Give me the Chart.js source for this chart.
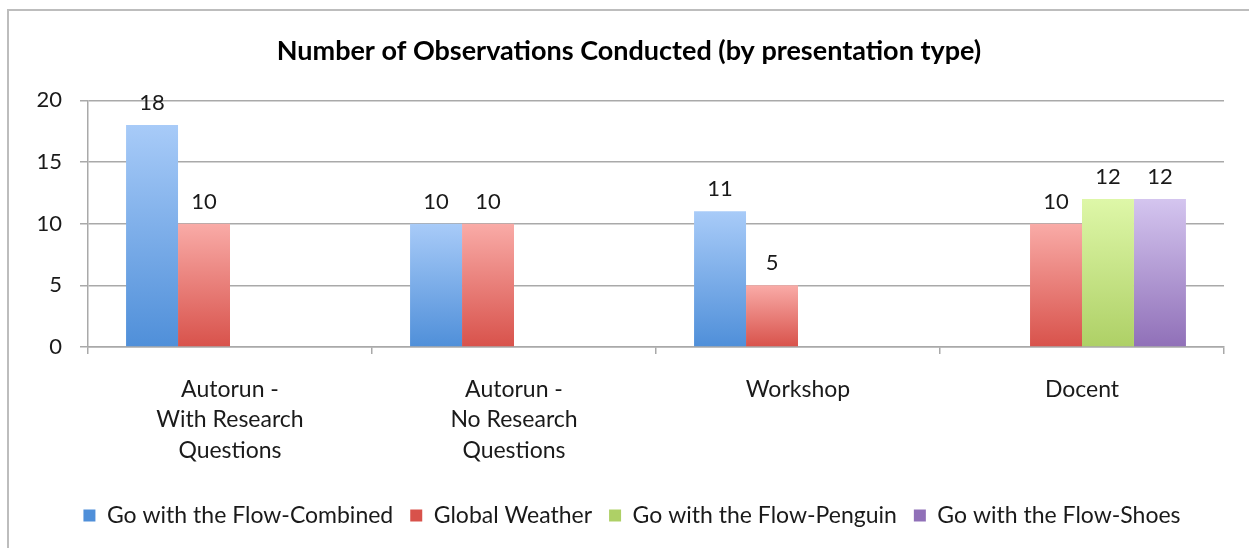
<!DOCTYPE html>
<html>
<head>
<meta charset="utf-8">
<script src="https://cdn.jsdelivr.net/npm/chart.js@4/dist/chart.umd.min.js"></script>
<style>
  html, body { margin: 0; padding: 0; background: #fff; }
  #wrap { position: relative; width: 1249px; height: 548px; }
</style>
</head>
<body>
<div id="wrap"><canvas id="chart" width="1249" height="548"></canvas></div>
<script>
// chart data
const categories = [
  ['Autorun -', 'With Research', 'Questions'],
  ['Autorun -', 'No Research', 'Questions'],
  'Workshop',
  'Docent'
]
const seriesNames = [
  'Go with the Flow-Combined',
  'Global Weather',
  'Go with the Flow-Penguin',
  'Go with the Flow-Shoes'
]
const combined = [18, 10, 11, null]
const globalWeather = [10, 10, 5, 10]
const penguin = [null, null, null, 12]
const shoes = [null, null, null, 12]
const yTicks = [0, 5, 10, 15, 20]

// top / bottom colours of each bar gradient
const gradColors = [
  ['#a8cbf8', '#4f8fd9'],
  ['#f9aba7', '#d8524b'],
  ['#def7a8', '#aed066'],
  ['#d4c5ef', '#9070b8']
]

const FONT = 'Lato, "Open Sans", sans-serif'
const TEXT = '#1a1a1a'
const GRID = '#a9a9a9'

function barFill(i) {
  return function (ctx) {
    const [top, bottom] = gradColors[i]
    if (ctx.type !== 'data' || ctx.raw == null || !ctx.chart.chartArea) return bottom
    const y = ctx.chart.scales.y
    const g = ctx.chart.ctx.createLinearGradient(0, y.getPixelForValue(ctx.raw), 0, y.getPixelForValue(0))
    g.addColorStop(0, top)
    g.addColorStop(1, bottom)
    return g
  }
}

// values written above each bar
const barLabels = {
  id: 'barLabels',
  afterDatasetsDraw(chart) {
    const c = chart.ctx
    c.save()
    c.font = '22px ' + FONT
    c.fillStyle = TEXT
    c.textAlign = 'center'
    c.textBaseline = 'middle'
    chart.data.datasets.forEach((ds, i) => {
      chart.getDatasetMeta(i).data.forEach((bar, j) => {
        if (ds.data[j] == null) return
        c.fillText(String(ds.data[j]), bar.x, bar.y - 22)
      })
    })
    c.restore()
  }
}

// grey frame of the chart box (top and left edges visible)
const frame = {
  id: 'frame',
  beforeDraw(chart) {
    const c = chart.ctx
    c.save()
    c.strokeStyle = '#bdbdbd'
    c.lineWidth = 2
    c.beginPath()
    c.moveTo(8, 548)
    c.lineTo(8, 10)
    c.lineTo(1249, 10)
    c.stroke()
    c.restore()
  }
}

// title and legend sit a little right of the plot centre in the original
const nudge = {
  id: 'nudge',
  afterLayout(chart) {
    if (chart.titleBlock) {
      chart.titleBlock.left += 13
      chart.titleBlock.right += 13
    }
    if (chart.legend) {
      chart.legend.left += 16
      chart.legend.right += 16
    }
  }
}

const datasets = [combined, globalWeather, penguin, shoes].map((data, i) => ({
  label: seriesNames[i],
  data: data,
  backgroundColor: barFill(i),
  borderWidth: 0,
  barPercentage: 1,
  categoryPercentage: 0.732
}))

new Chart(document.getElementById('chart'), {
  type: 'bar',
  data: { labels: categories, datasets: datasets },
  plugins: [frame, barLabels, nudge],
  options: {
    responsive: false,
    animation: false,
    layout: { padding: { left: 8, right: 25, top: 10, bottom: 11 } },
    plugins: {
      title: {
        display: true,
        text: 'Number of Observations Conducted (by presentation type)',
        color: '#000',
        font: { family: FONT, size: 27, weight: 'bold' },
        padding: { top: 25, bottom: 33 }
      },
      legend: {
        position: 'bottom',
        labels: {
          color: TEXT,
          font: { family: FONT, size: 23 },
          boxWidth: 12,
          boxHeight: 12,
          padding: 17
        }
      },
      tooltip: { enabled: false }
    },
    scales: {
      x: {
        grid: { drawOnChartArea: false, color: GRID, lineWidth: 1.5, tickLength: 7 },
        border: { color: GRID, width: 1.5 },
        ticks: {
          color: TEXT,
          font: { family: FONT, size: 23, lineHeight: 1.33 },
          padding: 20,
          maxRotation: 0
        },
        afterFit(scale) { scale.height = 140 }
      },
      y: {
        min: 0,
        max: 20,
        afterBuildTicks(scale) { scale.ticks = yTicks.map(v => ({ value: v })) },
        grid: { color: GRID, lineWidth: 1.5, tickLength: 8 },
        border: { color: GRID, width: 1.5 },
        ticks: {
          color: TEXT,
          font: { family: FONT, size: 22 },
          padding: 18
        },
        afterFit(scale) { scale.width = 80 }
      }
    }
  }
})
</script>
</body>
</html>
